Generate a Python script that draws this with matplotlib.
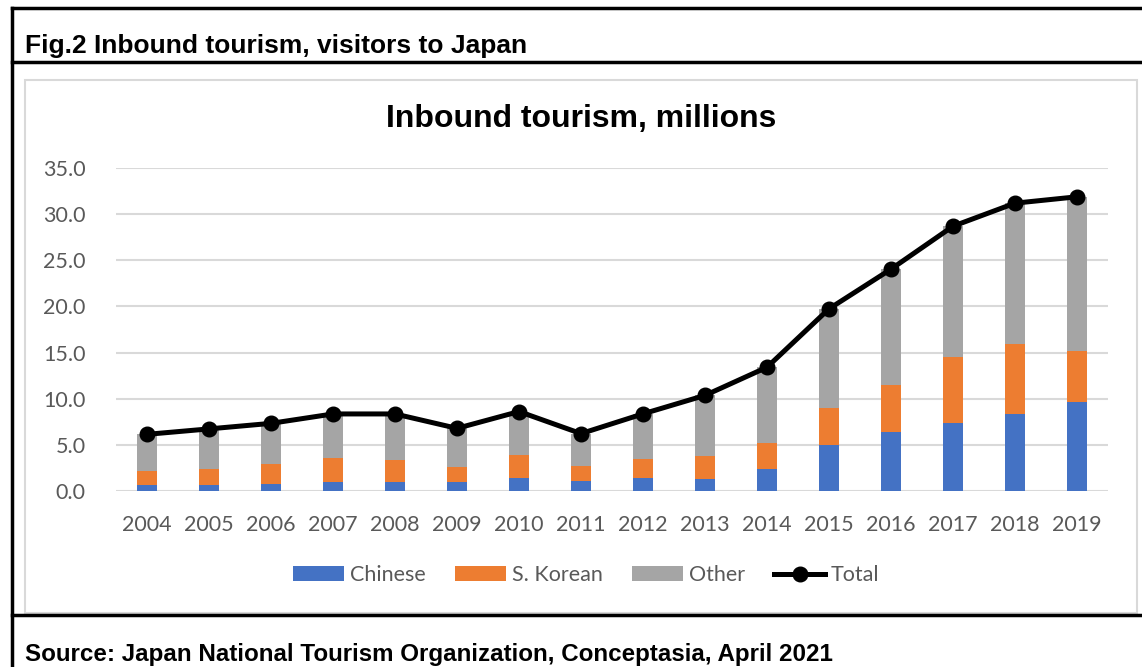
import matplotlib.pyplot as plt
from matplotlib.lines import Line2D
from matplotlib.patches import Rectangle
import numpy as np

# visitors to Japan, millions
years = ['2004', '2005', '2006', '2007', '2008', '2009', '2010', '2011',
         '2012', '2013', '2014', '2015', '2016', '2017', '2018', '2019']
chinese = [0.62, 0.65, 0.81, 0.94, 1.00, 1.01, 1.41, 1.04,
           1.43, 1.31, 2.41, 4.99, 6.37, 7.36, 8.38, 9.59]
korean = [1.59, 1.75, 2.12, 2.60, 2.38, 1.59, 2.44, 1.66,
          2.04, 2.46, 2.76, 4.00, 5.09, 7.14, 7.54, 5.58]
other = [3.93, 4.33, 4.40, 4.81, 4.97, 4.19, 4.76, 3.52,
         4.89, 6.59, 8.24, 10.75, 12.58, 14.19, 15.27, 16.71]
total = [6.14, 6.73, 7.33, 8.35, 8.35, 6.79, 8.61, 6.22,
         8.36, 10.36, 13.41, 19.74, 24.04, 28.69, 31.19, 31.88]

W, H = 1142, 667
fig = plt.figure(figsize=(W / 100, H / 100), dpi=100)
ax = fig.add_axes([116 / W, 1 - 491 / H, (1108 - 116) / W, (491 - 168) / H])

x = np.arange(len(years))
width = 0.31
bottom2 = np.array(chinese)
bottom3 = bottom2 + np.array(korean)
ax.bar(x, chinese, width, color='#4472C4', label='Chinese', zorder=2)
ax.bar(x, korean, width, bottom=bottom2, color='#ED7D31', label='S. Korean', zorder=2)
ax.bar(x, other, width, bottom=bottom3, color='#A5A5A5', label='Other', zorder=2)
ax.plot(x, total, color='black', lw=3.6, marker='o', markersize=10.5,
        label='Total', zorder=3)

ax.set_xlim(-0.5, len(years) - 0.5)
ax.set_ylim(0, 35)
ax.set_yticks(np.arange(0, 36, 5))
ax.set_yticklabels([f'{v:.1f}' for v in np.arange(0, 36, 5)])
ax.set_xticks(x)
ax.set_xticklabels(years)
ax.grid(axis='y', color='#D9D9D9', lw=1.5, zorder=0)
ax.set_axisbelow(True)
for s in ax.spines.values():
    s.set_visible(False)
ax.tick_params(length=0, labelsize=15.5, labelcolor='#595959')
ax.tick_params(axis='y', pad=22)
ax.tick_params(axis='x', pad=17)
for lbl in ax.get_xticklabels() + ax.get_yticklabels():
    lbl.set_family('Lato')

# chart title
fig.text(581 / W, 1 - 119 / H, 'Inbound tourism, millions', ha='center', va='center',
         fontsize=23, fontweight='bold', family='Liberation Sans')

# legend, Total last
handles, labels = ax.get_legend_handles_labels()
order = [1, 2, 3, 0]
fig.legend([handles[i] for i in order], [labels[i] for i in order],
           loc='center', bbox_to_anchor=(586 / W, 1 - 575 / H),
           ncol=4, frameon=False, prop={'family': 'Lato', 'size': 15.5},
           labelcolor='#595959', handlelength=2.4, handleheight=0.65,
           handletextpad=0.25, columnspacing=1.35)

# frames
def hline(y, x0, x1, color='black', lw=2.5):
    fig.add_artist(Line2D([x0 / W, x1 / W], [1 - y / H, 1 - y / H], color=color, lw=lw))

def vline(xp, y0, y1, color='black', lw=2.5):
    fig.add_artist(Line2D([xp / W, xp / W], [1 - y0 / H, 1 - y1 / H], color=color, lw=lw))

fig.add_artist(Rectangle((25 / W, 1 - 613 / H), (1137 - 25) / W, (613 - 80) / H,
                         fill=False, edgecolor='#D9D9D9', lw=1.5))
hline(8, 12, W)
hline(62, 12, W)
hline(615, 12, W)
vline(12, 8, H)

fig.text(25 / W, 1 - 46 / H, 'Fig.2 Inbound tourism, visitors to Japan', ha='left', va='center',
         fontsize=19, fontweight='bold', family='Liberation Sans')
fig.text(25 / W, 1 - 654 / H, 'Source: Japan National Tourism Organization, Conceptasia, April 2021',
         ha='left', va='center', fontsize=17.4, fontweight='bold', family='Liberation Sans')

fig.savefig('out.png', dpi=100)
